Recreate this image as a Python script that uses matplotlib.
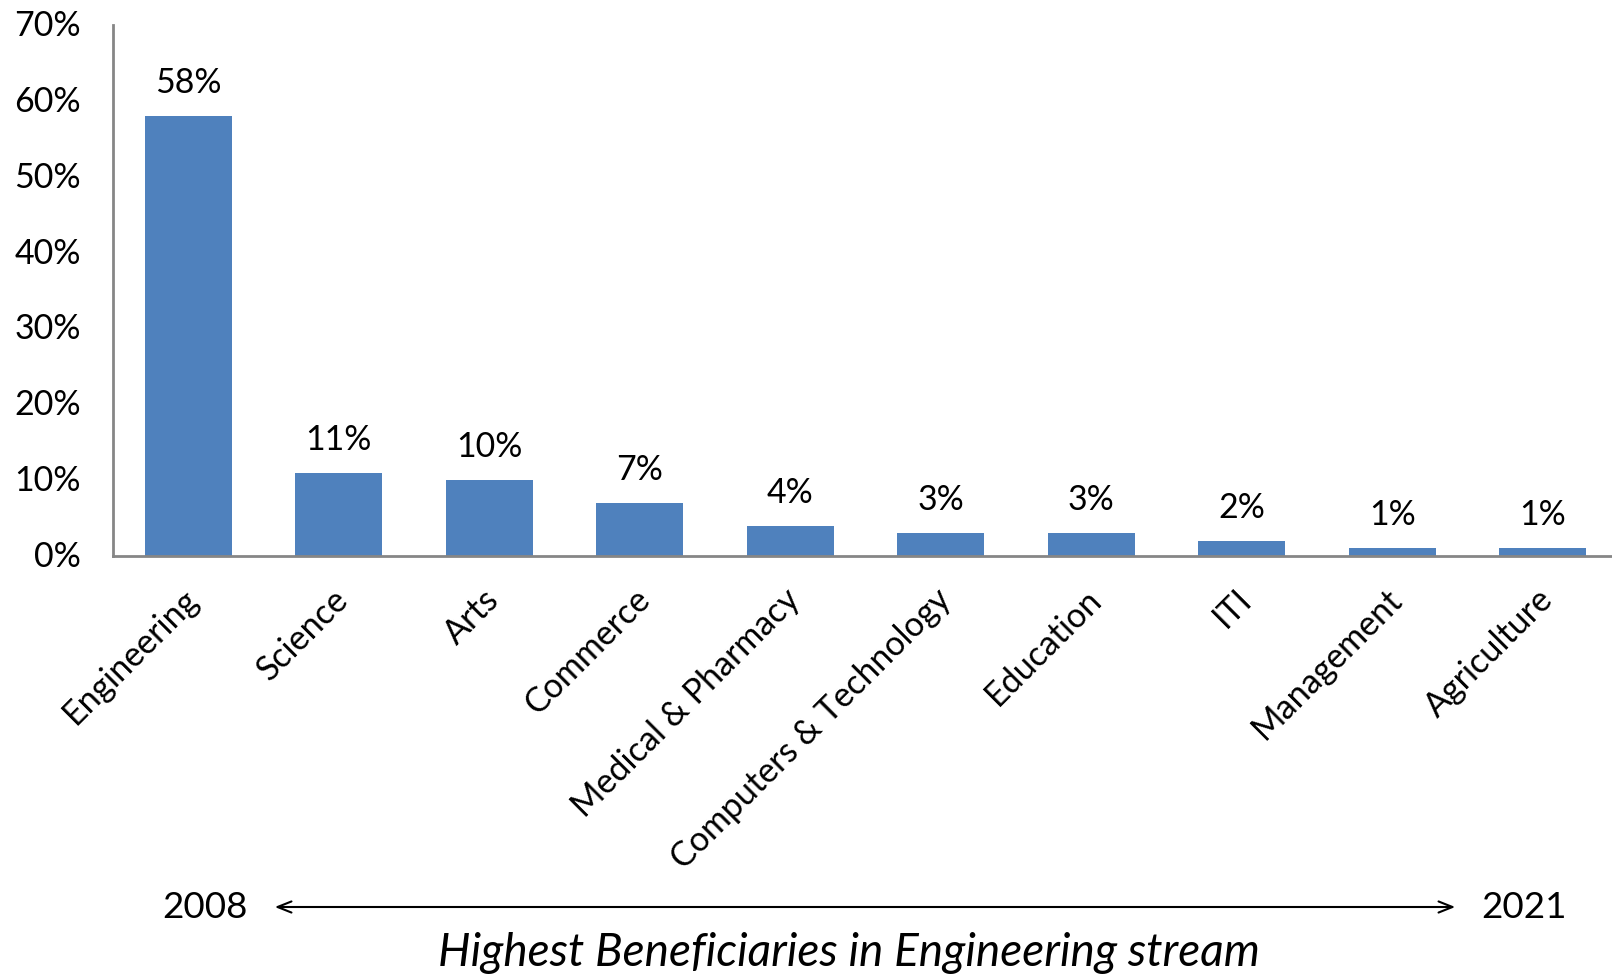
import matplotlib
matplotlib.use('Agg')
import matplotlib.pyplot as plt
import matplotlib.transforms as mtransforms
from matplotlib.ticker import PercentFormatter

plt.rcParams['font.family'] = ['Lato', 'DejaVu Sans']

categories = ['Engineering', 'Science', 'Arts', 'Commerce', 'Medical & Pharmacy',
              'Computers & Technology', 'Education', 'ITI', 'Management', 'Agriculture']
values = [58, 11, 10, 7, 4, 3, 3, 2, 1, 1]
yticks = [0, 10, 20, 30, 40, 50, 60, 70]

fig = plt.figure(figsize=(16.12, 9.79), dpi=100)
ax = fig.add_axes([113 / 1612, 1 - 557 / 979, 1505 / 1612, (557 - 26) / 979])

x = list(range(len(categories)))
bars = ax.bar(x, values, width=0.58, color='#4F81BD')

for xi, v in zip(x, values):
    ax.annotate('%d%%' % v, (xi, v), xytext=(0, 13), textcoords='offset points',
                ha='center', va='bottom', fontsize=24.4)

ax.set_xlim(-0.5, 9.5)
ax.set_ylim(0, 70)
ax.set_yticks(yticks)
ax.yaxis.set_major_formatter(PercentFormatter(decimals=0))
ax.tick_params(axis='y', length=0, pad=23, labelsize=24.5)
up = mtransforms.ScaledTranslation(0, 3 / 100, fig.dpi_scale_trans)
for lbl in ax.get_yticklabels():
    lbl.set_transform(lbl.get_transform() + up)

ax.set_xticks(x)
ax.set_xticklabels(categories, rotation=45, ha='right', va='center', rotation_mode='anchor', fontsize=24.5)
ax.tick_params(axis='x', length=0, pad=27)
offset = mtransforms.ScaledTranslation(5 / 100, 0, fig.dpi_scale_trans)
for lbl in ax.get_xticklabels():
    lbl.set_transform(lbl.get_transform() + offset)

for s in ['top', 'right']:
    ax.spines[s].set_visible(False)
for s in ['left', 'bottom']:
    ax.spines[s].set_color('#868686')
    ax.spines[s].set_linewidth(2)

# timeline arrow below the chart
fig.text(205 / 1612, 1 - 908 / 979, '2008', ha='center', va='center', fontsize=26.5)
fig.text(1524 / 1612, 1 - 908 / 979, '2021', ha='center', va='center', fontsize=26.5)
ax.annotate('', xy=(1458 / 1612, 1 - 908 / 979), xytext=(272 / 1612, 1 - 908 / 979),
            xycoords='figure fraction', textcoords='figure fraction',
            arrowprops=dict(arrowstyle='<->,head_length=1.0,head_width=0.4', lw=1.5, color='black'))
fig.text(849 / 1612, 1 - 953 / 979, 'Highest Beneficiaries in Engineering stream',
         ha='center', va='center', fontsize=33, style='italic')

fig.savefig('out.png', dpi=100)
